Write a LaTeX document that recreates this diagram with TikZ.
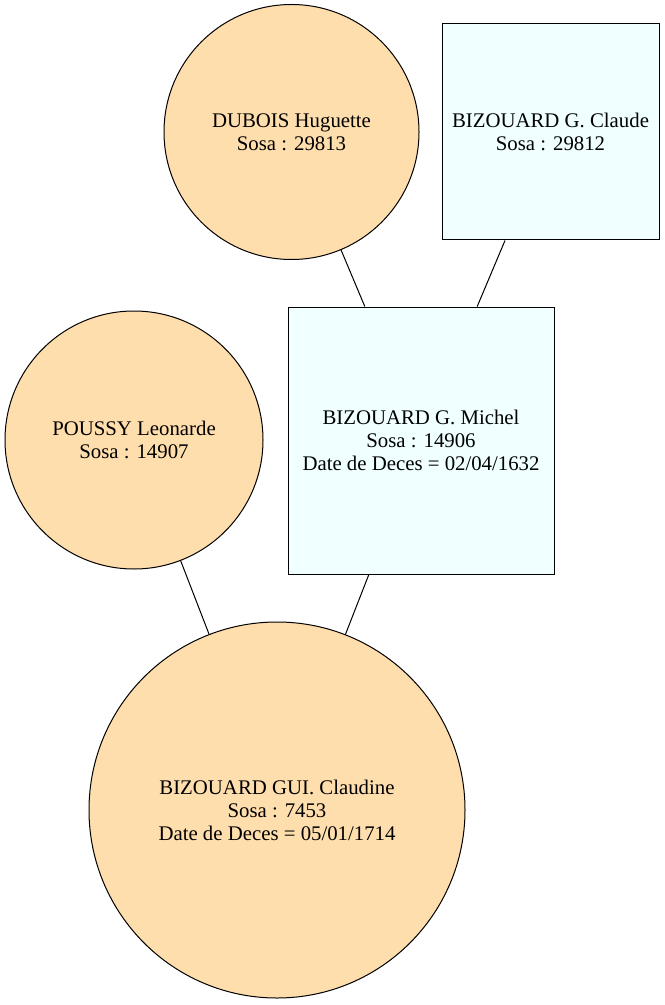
\documentclass[tikz,border=0pt]{standalone}
\usepackage{fontspec}
\setmainfont{Liberation Serif}
\usetikzlibrary{shapes.geometric}
\definecolor{femme}{HTML}{FFDEAD}
\definecolor{homme}{HTML}{F0FFFF}
\tikzset{
	personne/.style={draw=black, line width=0.75pt, align=center, inner sep=0pt, font=\fontsize{15.6}{17.25}\selectfont},
	femmenode/.style={personne, circle, fill=femme},
	hommenode/.style={personne, rectangle, fill=homme},
	lien/.style={line width=0.75pt}
}

\begin{document}
\begin{tikzpicture}[x=0.75pt, y=-0.75pt]
		%%%%% START %%%%%
		
		\useasboundingbox (0, 0) rectangle (664, 1005);
		
		\node[femmenode, minimum size=191.25pt] (dubois) at (291.5, 132) {DUBOIS Huguette\\Sosa : 29813};
		\node[hommenode, minimum width=162.75pt, minimum height=162pt] (claude) at (550.5, 132) {BIZOUARD G. Claude\\Sosa : 29812};
		
		\node[femmenode, minimum size=193.5pt] (poussy) at (134, 440) {POUSSY Leonarde\\Sosa : 14907};
		\node[hommenode, minimum width=199.5pt, minimum height=200.25pt] (michel) at (421, 440.5) {BIZOUARD G. Michel\\Sosa : 14906\\Date de Deces = 02/04/1632};
		
		\node[femmenode, minimum size=282pt] (claudine) at (277, 810) {BIZOUARD GUI. Claudine\\Sosa : 7453\\Date de Deces = 05/01/1714};
		
		\draw[lien] (dubois) -- (michel);
		\draw[lien] (claude) -- (michel);
		\draw[lien] (poussy) -- (claudine);
		\draw[lien] (michel) -- (claudine);
		
		%%%%% END %%%%%
	\end{tikzpicture}
\end{document}
